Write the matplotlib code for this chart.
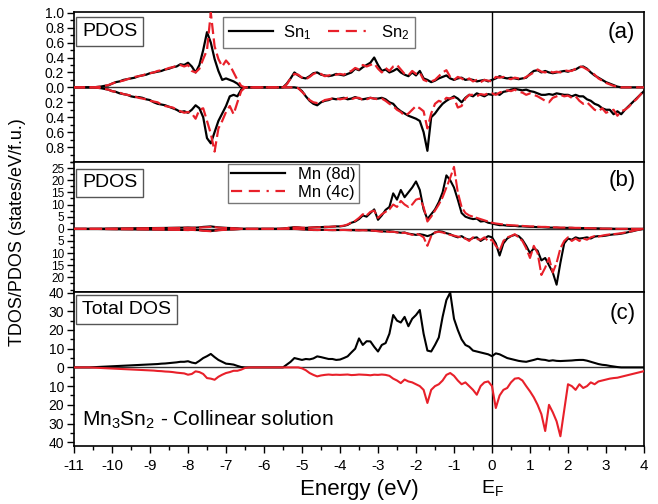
import numpy as np
import matplotlib
matplotlib.use("Agg")
import matplotlib.pyplot as plt
from matplotlib.lines import Line2D
from matplotlib.ticker import MultipleLocator, FuncFormatter

plt.rcParams['font.family'] = ['Liberation Sans', 'DejaVu Sans']
plt.rcParams['mathtext.fontset'] = 'custom'
plt.rcParams['mathtext.rm'] = 'Liberation Sans'
plt.rcParams['mathtext.it'] = 'Liberation Sans'

# --- Data (0.1 eV steps from -11 to 4 eV) ---
energy = np.linspace(-11, 4, 151)

sn1_up = [0, 0, 0, 0, 0, 0, 0.005, 0.01, 0.02, 0.025,
          0.05, 0.07, 0.08, 0.10, 0.11, 0.12, 0.13, 0.15, 0.16, 0.17,
          0.19, 0.20, 0.21, 0.22, 0.24, 0.25, 0.27, 0.28, 0.31, 0.30,
          0.33, 0.28, 0.20, 0.30, 0.50, 0.74, 0.60, 0.38, 0.22, 0.10,
          0.12, 0.10, 0.08, 0.05, 0, 0, 0, 0, 0, 0,
          0, 0, 0, 0, 0, 0, 0.05, 0.12, 0.20, 0.16,
          0.13, 0.12, 0.15, 0.19, 0.20, 0.17, 0.16, 0.15, 0.16, 0.18,
          0.17, 0.16, 0.18, 0.20, 0.25, 0.23, 0.27, 0.30, 0.33, 0.40,
          0.30, 0.22, 0.24, 0.20, 0.22, 0.25, 0.20, 0.17, 0.15, 0.20,
          0.16, 0.22, 0.12, 0.10, 0.07, 0.09, 0.12, 0.14, 0.16, 0.12,
          0.10, 0.12, 0.13, 0.10, 0.11, 0.10, 0.08, 0.09, 0.10, 0.08,
          0.10, 0.12, 0.15, 0.13, 0.12, 0.13, 0.12, 0.11, 0.12, 0.13,
          0.18, 0.22, 0.23, 0.20, 0.22, 0.20, 0.19, 0.20, 0.21, 0.22,
          0.21, 0.23, 0.24, 0.27, 0.28, 0.25, 0.20, 0.16, 0.13, 0.10,
          0.07, 0.05, 0.03, 0.01, 0, 0, 0, 0, 0, 0,
          0]
sn2_up = [0, 0, 0, 0, 0, 0, 0.005, 0.01, 0.02, 0.03,
          0.05, 0.07, 0.08, 0.09, 0.11, 0.12, 0.14, 0.15, 0.16, 0.18,
          0.19, 0.20, 0.22, 0.23, 0.24, 0.26, 0.27, 0.29, 0.30, 0.28,
          0.30, 0.22, 0.20, 0.25, 0.38, 0.50, 1.00, 0.55, 0.38, 0.28,
          0.36, 0.30, 0.20, 0.10, 0.02, 0, 0, 0, 0, 0,
          0, 0, 0, 0, 0, 0, 0.04, 0.12, 0.18, 0.17,
          0.13, 0.11, 0.14, 0.18, 0.20, 0.18, 0.15, 0.16, 0.17, 0.17,
          0.18, 0.17, 0.20, 0.22, 0.26, 0.24, 0.30, 0.28, 0.30, 0.32,
          0.25, 0.20, 0.26, 0.22, 0.28, 0.30, 0.24, 0.18, 0.16, 0.22,
          0.18, 0.20, 0.10, 0.08, 0.08, 0.10, 0.15, 0.20, 0.23, 0.14,
          0.10, 0.14, 0.12, 0.09, 0.12, 0.08, 0.10, 0.07, 0.10, 0.09,
          0.08, 0.14, 0.13, 0.14, 0.12, 0.11, 0.13, 0.12, 0.11, 0.14,
          0.17, 0.20, 0.24, 0.21, 0.20, 0.22, 0.20, 0.21, 0.20, 0.23,
          0.22, 0.22, 0.25, 0.28, 0.27, 0.24, 0.21, 0.17, 0.12, 0.09,
          0.06, 0.04, 0.02, 0.01, 0, 0, 0, 0, 0, 0,
          0]
sn1_dn = [0, 0, 0, 0, 0, 0, -0.005, -0.01, -0.02, -0.03,
          -0.05, -0.06, -0.08, -0.09, -0.10, -0.12, -0.13, -0.13, -0.14, -0.16,
          -0.17, -0.20, -0.22, -0.23, -0.24, -0.26, -0.28, -0.30, -0.33, -0.32,
          -0.34, -0.30, -0.24, -0.28, -0.40, -0.68, -0.75, -0.60, -0.45, -0.35,
          -0.25, -0.12, -0.10, -0.12, -0.03, 0, 0, 0, 0, 0,
          0, 0, 0, 0, 0, 0, 0, 0, 0, -0.01,
          -0.05, -0.12, -0.18, -0.22, -0.24, -0.20, -0.18, -0.17, -0.15, -0.16,
          -0.15, -0.14, -0.16, -0.15, -0.13, -0.15, -0.16, -0.15, -0.14, -0.15,
          -0.15, -0.14, -0.16, -0.20, -0.22, -0.28, -0.32, -0.35, -0.38, -0.40,
          -0.42, -0.45, -0.60, -0.85, -0.40, -0.35, -0.28, -0.22, -0.18, -0.15,
          -0.12, -0.15, -0.20, -0.14, -0.10, -0.12, -0.08, -0.10, -0.12, -0.09,
          -0.10, -0.08, -0.10, -0.06, -0.05, -0.03, -0.02, -0.03, -0.04, -0.03,
          -0.05, -0.06, -0.08, -0.10, -0.10, -0.09, -0.10, -0.08, -0.09, -0.10,
          -0.10, -0.12, -0.10, -0.12, -0.12, -0.16, -0.18, -0.22, -0.24, -0.28,
          -0.30, -0.30, -0.36, -0.32, -0.36, -0.30, -0.25, -0.20, -0.15, -0.10,
          -0.05]
sn2_dn = [0, 0, 0, 0, 0, 0, -0.005, -0.01, -0.02, -0.03,
          -0.05, -0.06, -0.07, -0.09, -0.10, -0.11, -0.12, -0.14, -0.15, -0.16,
          -0.18, -0.19, -0.20, -0.23, -0.25, -0.26, -0.27, -0.30, -0.32, -0.34,
          -0.33, -0.35, -0.42, -0.30, -0.28, -0.45, -0.62, -0.86, -0.55, -0.45,
          -0.33, -0.25, -0.36, -0.20, -0.05, 0, 0, 0, 0, 0,
          0, 0, 0, 0, 0, 0, 0, 0, 0, -0.01,
          -0.06, -0.11, -0.17, -0.20, -0.21, -0.20, -0.17, -0.16, -0.15, -0.15,
          -0.16, -0.15, -0.14, -0.16, -0.14, -0.14, -0.17, -0.16, -0.14, -0.15,
          -0.16, -0.15, -0.18, -0.22, -0.25, -0.30, -0.33, -0.38, -0.35, -0.30,
          -0.25, -0.28, -0.32, -0.55, -0.35, -0.22, -0.18, -0.20, -0.14, -0.15,
          -0.14, -0.27, -0.25, -0.15, -0.10, -0.10, -0.12, -0.09, -0.10, -0.08,
          -0.08, -0.10, -0.07, -0.05, -0.04, -0.05, -0.03, -0.06, -0.07, -0.10,
          -0.08, -0.10, -0.12, -0.15, -0.18, -0.20, -0.14, -0.12, -0.10, -0.12,
          -0.11, -0.14, -0.12, -0.18, -0.22, -0.20, -0.25, -0.30, -0.32, -0.28,
          -0.34, -0.32, -0.30, -0.38, -0.32, -0.30, -0.26, -0.20, -0.16, -0.10,
          -0.04]

mn8d_up = [0, 0, 0, 0, 0, 0.02, 0.05, 0.08, 0.10, 0.12,
           0.15, 0.15, 0.18, 0.20, 0.20, 0.22, 0.25, 0.25, 0.28, 0.30,
           0.30, 0.32, 0.35, 0.35, 0.38, 0.40, 0.42, 0.45, 0.48, 0.50,
           0.55, 0.50, 0.50, 0.60, 0.80, 0.90, 1.00, 0.80, 0.60, 0.50,
           0.40, 0.35, 0.30, 0.20, 0.05, 0, 0, 0, 0, 0,
           0, 0, 0, 0, 0, 0.10, 0.30, 0.50, 0.70, 0.60,
           0.40, 0.40, 0.50, 0.60, 0.70, 0.70, 0.80, 0.80, 0.90, 1.00,
           1.0, 1.2, 1.6, 2.5, 3.0, 4.0, 5.5, 5.0, 6.5, 8.0,
           3.7, 5.5, 7.8, 9.0, 14.6, 12.0, 16.0, 13.0, 15.0, 17.0,
           19.5, 16.0, 8.0, 4.0, 6.0, 8.0, 11.0, 15.0, 22.0, 20.0,
           17.0, 12.0, 6.5, 5.0, 4.4, 4.0, 4.2, 3.0, 3.2, 2.5,
           2.2, 1.8, 1.5, 1.5, 1.3, 1.2, 1.2, 1.0, 1.0, 0.9,
           0.8, 0.8, 0.7, 0.7, 0.6, 0.5, 0.5, 0.5, 0.4, 0.4,
           0.4, 0.4, 0.3, 0.3, 0.3, 0.3, 0.2, 0.2, 0.2, 0.1,
           0.1, 0.1, 0.05, 0, 0, 0, 0, 0, 0, 0,
           0]
mn4c_up = [0, 0, 0, 0, 0, 0.02, 0.04, 0.06, 0.08, 0.10,
           0.12, 0.12, 0.15, 0.15, 0.18, 0.20, 0.20, 0.22, 0.22, 0.25,
           0.25, 0.28, 0.30, 0.30, 0.32, 0.35, 0.35, 0.38, 0.40, 0.40,
           0.45, 0.40, 0.42, 0.50, 0.60, 0.70, 0.80, 0.70, 0.50, 0.40,
           0.35, 0.30, 0.25, 0.15, 0.05, 0, 0, 0, 0, 0,
           0, 0, 0, 0, 0, 0.10, 0.30, 0.50, 0.60, 0.60,
           0.50, 0.40, 0.50, 0.60, 0.60, 0.70, 0.80, 0.80, 0.90, 1.00,
           1.1, 1.3, 1.8, 2.6, 3.3, 4.5, 6.0, 5.5, 7.0, 7.5,
           4.5, 6.0, 7.0, 8.0, 10.0, 9.0, 11.5, 10.0, 9.0, 10.0,
           12.0, 12.5, 9.0, 3.0, 5.0, 7.5, 10.0, 13.0, 17.0, 21.0,
           25.5, 15.0, 9.0, 6.5, 5.5, 5.0, 4.5, 4.0, 3.5, 3.0,
           2.5, 2.2, 2.0, 1.8, 1.6, 1.5, 1.4, 1.3, 1.2, 1.1,
           1.0, 1.0, 0.9, 0.8, 0.8, 0.7, 0.6, 0.6, 0.5, 0.5,
           0.5, 0.45, 0.4, 0.4, 0.35, 0.3, 0.25, 0.2, 0.15, 0.1,
           0.1, 0.05, 0, 0, 0, 0, 0, 0, 0, 0,
           0]
mn8d_dn = [0, 0, 0, 0, 0, -0.02, -0.05, -0.08, -0.10, -0.12,
           -0.15, -0.15, -0.18, -0.20, -0.20, -0.22, -0.25, -0.25, -0.28, -0.30,
           -0.30, -0.32, -0.33, -0.35, -0.36, -0.38, -0.40, -0.42, -0.44, -0.45,
           -0.50, -0.45, -0.48, -0.55, -0.70, -0.80, -0.90, -0.75, -0.55, -0.45,
           -0.35, -0.30, -0.25, -0.15, -0.05, 0, 0, 0, 0, 0,
           0, 0, 0, 0, 0, 0, 0, 0, -0.05, -0.10,
           -0.20, -0.30, -0.40, -0.50, -0.50, -0.45, -0.40, -0.50, -0.55, -0.50,
           -0.50, -0.45, -0.50, -0.55, -0.60, -0.60, -0.55, -0.60, -0.70, -0.80,
           -0.9, -1.0, -1.1, -1.0, -1.2, -1.4, -1.6, -1.5, -2.0, -2.2,
           -2.5, -2.2, -2.5, -3.0, -2.5, -1.5, -1.0, -1.2, -1.8, -2.2,
           -3.0, -3.5, -3.0, -4.0, -4.5, -3.8, -3.5, -5.0, -4.0, -3.0,
           -3.5, -6.0, -11.0, -6.0, -4.0, -3.0, -2.5, -3.0, -4.5, -7.0,
           -10.0, -8.0, -9.0, -13.0, -12.0, -15.0, -18.0, -23.0, -14.0, -6.0,
           -4.0, -4.5, -3.5, -4.0, -3.8, -3.5, -4.0, -3.2, -3.0, -3.0,
           -2.8, -2.5, -2.3, -2.2, -2.0, -1.7, -1.3, -1.0, -0.6, -0.3,
           0]
mn4c_dn = [0, 0, 0, 0, 0, -0.02, -0.05, -0.08, -0.10, -0.12,
           -0.14, -0.15, -0.17, -0.20, -0.20, -0.22, -0.24, -0.25, -0.27, -0.30,
           -0.30, -0.32, -0.34, -0.35, -0.37, -0.38, -0.40, -0.42, -0.45, -0.45,
           -0.50, -0.45, -0.50, -0.60, -0.80, -0.90, -1.00, -0.80, -0.60, -0.50,
           -0.40, -0.30, -0.25, -0.15, -0.05, 0, 0, 0, 0, 0,
           0, 0, 0, 0, 0, 0, 0, 0, -0.05, -0.10,
           -0.20, -0.30, -0.40, -0.45, -0.50, -0.50, -0.45, -0.50, -0.50, -0.55,
           -0.50, -0.50, -0.55, -0.60, -0.55, -0.65, -0.60, -0.65, -0.75, -0.80,
           -1.0, -1.2, -1.0, -1.3, -1.2, -1.5, -1.8, -1.6, -2.0, -2.5,
           -2.0, -2.5, -3.5, -7.0, -3.0, -1.5, -1.2, -1.5, -2.0, -2.5,
           -2.8, -3.2, -3.5, -4.0, -5.0, -3.5, -4.2, -4.5, -3.5, -5.0,
           -4.5, -7.0, -9.0, -5.0, -3.5, -3.0, -2.2, -3.5, -5.0, -8.0,
           -12.0, -7.0, -10.0, -19.0, -16.0, -12.0, -18.0, -14.0, -8.0, -5.0,
           -3.5, -5.0, -4.0, -5.0, -4.0, -4.5, -3.5, -3.0, -3.2, -2.8,
           -2.5, -2.3, -2.2, -2.0, -1.8, -1.5, -1.2, -0.9, -0.5, -0.3,
           0]

tdos_up = [0, 0, 0, 0, 0, 0.1, 0.2, 0.3, 0.4, 0.5,
           0.6, 0.7, 0.8, 0.9, 1.0, 1.1, 1.2, 1.3, 1.4, 1.5,
           1.6, 1.7, 1.8, 2.0, 2.1, 2.3, 2.5, 2.7, 3.0, 3.0,
           3.3, 2.6, 2.2, 3.5, 5.0, 6.0, 7.2, 5.5, 4.0, 3.0,
           2.0, 1.8, 1.5, 0.8, 0.2, 0, 0, 0, 0, 0,
           0, 0, 0, 0, 0, 0, 1.5, 3.0, 5.0, 4.5,
           4.0, 4.5, 4.3, 4.8, 5.9, 5.5, 5.0, 4.5, 4.5, 4.0,
           4.2, 5.0, 5.9, 8.0, 10.0, 15.5, 12.0, 14.0, 13.9, 11.0,
           8.5, 12.0, 13.0, 18.0, 28.0, 25.0, 24.0, 27.0, 22.0, 26.0,
           28.0, 30.7, 18.0, 9.0, 8.5, 12.0, 16.0, 27.0, 36.0, 40.0,
           26.0, 20.0, 15.0, 12.0, 11.0, 9.0, 8.5, 8.0, 7.5, 7.0,
           6.0, 7.5, 7.0, 6.0, 5.0, 4.5, 4.0, 3.5, 3.2, 3.0,
           3.5, 4.0, 4.6, 4.2, 4.0, 3.5, 3.8, 3.5, 3.4, 3.5,
           3.6, 3.7, 3.9, 4.0, 4.0, 3.6, 3.0, 2.4, 1.8, 1.4,
           1.2, 0.8, 0.5, 0.2, 0, 0, 0, 0, 0, 0,
           0]
tdos_dn = [0, 0, 0, 0, 0, -0.1, -0.2, -0.3, -0.4, -0.5,
           -0.6, -0.7, -0.8, -0.9, -1.0, -1.1, -1.2, -1.3, -1.4, -1.5,
           -1.6, -1.7, -1.9, -2.0, -2.2, -2.3, -2.5, -2.8, -3.0, -3.2,
           -3.9, -3.5, -2.1, -2.5, -3.5, -5.7, -6.0, -6.6, -5.0, -3.9,
           -3.0, -2.5, -1.8, -1.8, -1.2, -0.3, 0, 0, 0, 0,
           0, 0, 0, 0, 0, 0, 0, 0, 0, 0,
           -0.5, -1.5, -3.0, -4.0, -4.8, -4.3, -4.0, -3.8, -4.0, -3.9,
           -4.0, -3.9, -3.8, -4.1, -4.0, -3.8, -3.9, -4.0, -4.2, -3.9,
           -4.0, -3.8, -4.0, -4.5, -6.0, -7.0, -8.4, -6.5, -7.5, -8.0,
           -9.0, -10.0, -12.0, -19.0, -12.0, -10.0, -9.0, -7.0, -4.0, -3.0,
           -4.5, -7.0, -9.0, -8.0, -10.0, -12.0, -14.6, -10.0, -8.0, -7.5,
           -10.0, -21.7, -15.0, -12.0, -11.0, -8.0, -6.0, -5.7, -7.0, -10.0,
           -12.8, -16.0, -20.0, -25.0, -34.0, -20.0, -24.0, -28.8, -36.8, -23.0,
           -9.0, -10.0, -12.0, -9.0, -11.0, -10.0, -8.0, -9.0, -7.5, -7.0,
           -6.5, -6.0, -5.7, -5.5, -5.0, -4.5, -4.0, -3.5, -3.0, -2.5,
           -2.0]

x_ticks = list(range(-11, 5))

RED = '#e8202a'
LEG_DASH = (0, (5, 3, 5, 3, 1, 3))

# --- Figure with three stacked panels ---
W, H = 658, 504
fig = plt.figure(figsize=(W / 100, H / 100), dpi=100)


def px_axes(top, bottom):
    return fig.add_axes([74 / W, 1 - bottom / H, 570 / W, (bottom - top) / H])


ax_a = px_axes(12, 162)
ax_b = px_axes(162, 292)
ax_c = px_axes(292, 446)

absfmt = FuncFormatter(lambda v, p: f"{abs(v):g}")

for ax in (ax_a, ax_b, ax_c):
    ax.set_xlim(-11, 4)
    ax.axvline(0, color='black', lw=1.0, zorder=1)
    ax.axhline(0, color='#333333', lw=1.0, zorder=1)
    for s in ax.spines.values():
        s.set_linewidth(1.2)
    ax.tick_params(direction='out', which='major', length=5, width=1, labelsize=10, pad=2)
    ax.tick_params(direction='out', which='minor', length=3, width=1)
    ax.xaxis.set_minor_locator(MultipleLocator(0.5))

for ax in (ax_a, ax_b):
    ax.tick_params(axis='x', which='both', bottom=False, labelbottom=False)
ax_b.tick_params(axis='y', labelsize=8.5)

# (a) Sn PDOS
ax_a.plot(energy, sn1_up, color='black', lw=1.6, zorder=3)
ax_a.plot(energy, sn1_dn, color='black', lw=1.6, zorder=3)
ax_a.plot(energy, sn2_up, color=RED, lw=1.6, ls=(0, (5, 2)), zorder=4)
ax_a.plot(energy, sn2_dn, color=RED, lw=1.6, ls=(0, (5, 2)), zorder=4)
ax_a.set_ylim(-1.0, 1.01)
ax_a.set_yticks([-0.8, -0.6, -0.4, -0.2, 0, 0.2, 0.4, 0.6, 0.8, 1.0])
ax_a.yaxis.set_major_formatter(FuncFormatter(lambda v, p: f"{abs(v):.1f}"))
ax_a.yaxis.set_minor_locator(MultipleLocator(0.1))
h_a = [Line2D([], [], color='black', lw=1.6),
       Line2D([], [], color=RED, lw=1.6, ls=LEG_DASH)]
ax_a.legend(h_a, [r'Sn$_1$', r'Sn$_2$'], ncol=2, loc='upper left',
            bbox_to_anchor=(0.262, 0.965), fontsize=12, frameon=True, fancybox=False,
            edgecolor='#555555', handlelength=2.6, columnspacing=1.0,
            borderpad=0.35, handletextpad=0.6, borderaxespad=0)

# (b) Mn PDOS
ax_b.plot(energy, mn8d_up, color='black', lw=1.5, zorder=3)
ax_b.plot(energy, mn8d_dn, color='black', lw=1.5, zorder=3)
ax_b.plot(energy, mn4c_up, color=RED, lw=1.5, ls=(0, (6, 1.5)), zorder=4)
ax_b.plot(energy, mn4c_dn, color=RED, lw=1.5, ls=(0, (6, 1.5)), zorder=4)
ax_b.set_ylim(-26, 27.5)
ax_b.set_yticks([-20, -15, -10, -5, 0, 5, 10, 15, 20, 25])
ax_b.yaxis.set_major_formatter(absfmt)
ax_b.yaxis.set_minor_locator(MultipleLocator(2.5))
h_b = [Line2D([], [], color='black', lw=1.6),
       Line2D([], [], color=RED, lw=1.6, ls=LEG_DASH)]
ax_b.legend(h_b, ['Mn (8d)', 'Mn (4c)'], loc='upper left',
            bbox_to_anchor=(0.27, 0.985), fontsize=12, frameon=True, fancybox=False,
            edgecolor='#555555', handlelength=3.2, borderpad=0.2,
            labelspacing=0.15, handletextpad=0.8, borderaxespad=0)

# (c) Total DOS
ax_c.plot(energy, tdos_up, color='black', lw=1.5, zorder=3)
ax_c.plot(energy, tdos_dn, color=RED, lw=1.5, zorder=3)
ax_c.set_ylim(-42, 40.3)
ax_c.set_yticks([-40, -30, -20, -10, 0, 10, 20, 30, 40])
ax_c.yaxis.set_major_formatter(absfmt)
ax_c.yaxis.set_minor_locator(MultipleLocator(5))
ax_c.set_xticks(x_ticks)
ax_c.xaxis.set_major_formatter(FuncFormatter(lambda v, p: f"{int(v)}"))
ax_c.tick_params(axis='x', labelsize=11, pad=4)

# panel tags and boxes
box = dict(boxstyle='square,pad=0.3', facecolor='white', edgecolor='#555555', lw=1)
ax_a.text(0.014, 0.925, 'PDOS', transform=ax_a.transAxes, fontsize=14,
          va='top', ha='left', bbox=box, zorder=6)
ax_b.text(0.014, 0.905, 'PDOS', transform=ax_b.transAxes, fontsize=14,
          va='top', ha='left', bbox=box, zorder=6)
ax_c.text(0.014, 0.94, 'Total DOS', transform=ax_c.transAxes, fontsize=14,
          va='top', ha='left', bbox=box, zorder=6)
for ax, tag in ((ax_a, '(a)'), (ax_b, '(b)'), (ax_c, '(c)')):
    ax.text(0.985, 0.86, tag, transform=ax.transAxes, fontsize=16, ha='right', va='center')

ax_c.text(-10.8, -28, r'Mn$_3$Sn$_2$ - Collinear solution', fontsize=15,
          ha='left', va='center')

# axis labels
fig.text(18 / W, 1 - 232 / H, 'TDOS/PDOS (states/eV/f.u.)', rotation=90,
         fontsize=13, ha='center', va='center')
fig.text(359 / W, 1 - 490 / H, 'Energy (eV)', fontsize=16, ha='center', va='center')
fig.text(492 / W, 1 - 488 / H, r'E$_\mathrm{F}$', fontsize=14, ha='center', va='center')

fig.savefig('out.png', dpi=100)
